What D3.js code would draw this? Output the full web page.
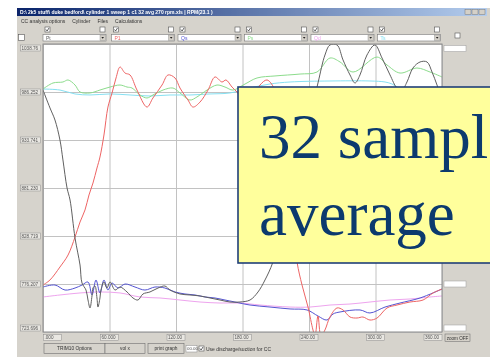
<!DOCTYPE html>
<html>
<head>
<meta charset="utf-8">
<script src="https://cdn.jsdelivr.net/npm/d3@7"></script>
<style>
  html, body { margin: 0; padding: 0; background: #ffffff; overflow: hidden; }
  svg { display: block; }
</style>
</head>
<body>
<svg id="chart" width="490" height="357"></svg>
<script>
// ---- axis ticks (crank angle in degrees, pressure scale) ----
const xTicks = [0, 60, 120, 180, 240, 300, 360];
const xTickLabels = [".000", "60.000", "120.00", "180.00", "240.00", "300.00", "360.00"];
const yTicks = [723.696, 776.207, 828.719, 881.230, 933.741, 986.252, 1038.763];
const yTickLabels = ["723.696", "776.207", "828.719", "881.230", "933.741", "986.252", "1038.76"];

// ---- channel selectors ----
const channelNames = ["Pt", "P1", "Qs", "Ps", "Qd", "Ts"];
const channelColors = ["#606060", "#ee6464", "#5454d2", "#8cdc8c", "#eea4ee", "#86e0f2"];

// ---- traces: [crank angle, value] ----
const traceGray = [
  [0, 988.4], [6.3, 968.8], [10.8, 955.6], [15.3, 933.7], [18, 911.9], [21.7, 881.2],
  [24.4, 868.1], [28.9, 826.5], [33.4, 797.0], [35.2, 777.3], [38.8, 769.6], [40.6, 758.7],
  [42.4, 750.0], [44.2, 763.1], [45.1, 771.8], [46.9, 774.0], [48.7, 760.9], [49.6, 751.0],
  [51.4, 760.9], [52.3, 769.6], [55.0, 778.4], [57.7, 771.8], [60.5, 778.4], [65, 769.6],
  [69.5, 772.9], [75.8, 767.5], [81.2, 760.9], [85.7, 758.7], [90.2, 765.3], [96.5, 767.5],
  [103.8, 771.8], [110, 774.0], [114.6, 769.6], [123.6, 765.3], [132.6, 764.2], [141.7, 763.1],
  [150.7, 760.9], [159.7, 758.7], [168.7, 756.5], [177.7, 756.5], [186.8, 758.7], [194, 767.5],
  [200.3, 780.6], [207.5, 800.3], [222.9, 868.1], [236.4, 933.7], [248.1, 996.1], [254.4, 1026.7],
  [258.9, 1037.7], [265.3, 1037.7], [270.7, 1021.3], [277, 1004.9], [281.5, 996.1], [286, 1004.9],
  [292.3, 1026.7], [299.5, 1037.7], [305.9, 1023.4], [313.1, 1004.9], [319.4, 990.6], [323.9, 988.4],
  [328.4, 997.2], [333.8, 1012.5], [340.2, 1019.1], [346.5, 1019.1], [351, 1008.1], [355.5, 993.9],
  [360, 977.5]
];
const traceRed = [
  [0, 775.1], [6.3, 780.6], [15.3, 794.8], [22.6, 807.9], [28.9, 827.6], [33.4, 844.0],
  [37.9, 857.2], [41.5, 873.6], [45.1, 886.7], [48.7, 903.1], [51.4, 915.1], [55, 939.2],
  [58.6, 969.8], [62.3, 985.2], [65.9, 1001.6], [69.5, 1013.6], [74, 1007.0], [78.5, 1004.9],
  [84.8, 988.4], [93.8, 969.8], [99.2, 979.7], [107.4, 993.9], [112.8, 1004.9], [119.1, 1001.6],
  [123.6, 990.6], [130.8, 977.5], [135.3, 969.8], [141.7, 975.3], [148.9, 988.4], [155.2, 1002.7],
  [161.5, 997.2], [165.1, 999.4], [170.5, 991.7], [175, 986.3], [182.3, 975.3], [188.6, 979.7],
  [195.8, 993.9], [202.1, 999.4], [208.4, 990.6], [213.8, 966.6], [220.2, 911.9], [224.7, 851.7],
  [229.2, 800.3], [233.7, 775.1], [239.1, 751.0], [243.6, 725.9], [245.4, 719.3], [248.1, 741.2],
  [250.8, 719.3], [254.4, 725.9], [258.9, 740.1], [265.3, 750.0], [270.7, 747.8], [277, 740.1],
  [283.3, 739.0], [288.7, 740.1], [295, 736.8], [301.4, 739.0], [310.4, 750.0], [319.4, 753.2],
  [331.1, 756.5], [342.9, 758.7], [351.9, 766.4], [360, 770.7]
];
const traceBlue = [
  [0, 772.9], [10.8, 775.1], [19.9, 769.6], [28.9, 771.8], [35.2, 775.1], [40.6, 778.4],
  [44.2, 764.2], [47.8, 780.6], [51.4, 766.4], [55, 780.6], [58.6, 769.6], [62.3, 777.3],
  [67.7, 771.8], [74, 776.2], [83, 772.9], [92, 769.6], [101, 772.9], [110, 771.8],
  [119.1, 767.5], [128.1, 765.3], [137.1, 764.2], [146.2, 762.0], [155.2, 760.9], [164.2, 758.7],
  [173.2, 756.5], [186.8, 753.2], [204.8, 751.0], [222.9, 748.9], [238.2, 747.8], [248.1, 741.2],
  [256.2, 736.8], [261.7, 743.4], [268, 745.6], [286, 747.8], [295, 744.5], [308.6, 751.0],
  [322.1, 755.4], [340.2, 760.9], [360, 770.7]
];
const traceGreen = [
  [0, 989.5], [9, 996.1], [18, 997.2], [22.6, 999.4], [28.9, 993.9], [33.4, 986.3],
  [42.4, 985.2], [51.4, 988.4], [60.5, 991.7], [69.5, 993.9], [75.8, 991.7], [80.3, 990.6],
  [87.5, 983.0], [93.8, 979.7], [99.2, 983.0], [108.3, 988.4], [117.3, 990.6], [123.6, 985.2],
  [132.6, 977.5], [138.9, 980.8], [148, 988.4], [157, 993.9], [164.2, 991.7], [171.4, 988.4],
  [182.3, 995.0], [193.1, 1001.6], [209.3, 1003.8], [231.9, 1005.9], [247.2, 1008.1], [258.9, 1023.4],
  [268, 1019.1], [279.7, 1008.1], [301.4, 1024.5], [310.4, 1015.8], [322.1, 1007.0], [337.4, 1012.5],
  [349.2, 1008.1], [360, 1002.7]
];
const traceMagenta = [
  [0, 762.0], [15.3, 764.2], [33.4, 766.4], [51.4, 767.5], [69.5, 766.4], [87.5, 762.0],
  [105.6, 760.9], [123.6, 758.7], [141.7, 756.5], [159.7, 755.4], [177.7, 755.4], [195.8, 753.2],
  [222.9, 751.0], [240.9, 751.0], [258.9, 753.2], [277, 754.3], [295, 756.5], [313.1, 758.7],
  [331.1, 759.8], [349.2, 762.0], [360, 763.1]
];
const traceCyan = [
  [0, 989.5], [15.3, 988.4], [28.9, 984.1], [42.4, 983.0], [60.5, 984.1], [78.5, 983.0],
  [96.5, 981.9], [114.6, 983.0], [132.6, 983.0], [150.7, 984.1], [168.7, 985.2], [186.8, 990.6],
  [204.8, 995.0], [222.9, 997.2], [258.9, 998.3], [295, 998.3], [308.6, 997.2], [314.9, 995.0],
  [319.4, 991.7], [331.1, 983.0], [344.7, 980.8], [360, 983.0]
];
// draw order: back to front
const traces = [traceCyan, traceGreen, traceMagenta, traceBlue, traceRed, traceGray];
const traceColors = [channelColors[5], channelColors[3], channelColors[4], channelColors[2], channelColors[1], channelColors[0]];

// ---- window text ----
const titleText = "D:\\ 2k5 stuff\\ duke bedford\\ cylinder 1 sweep 1 c1 32 avg 270 rpm.xls | RPM(23.1 )";
const menuItems = ["CC analysis options", "Cylinder", "Files", "Calculations"];
const buttonLabels = ["TRIM10 Options", "vol x", "print graph"];
const calloutLines = ["32 sample", "average"];

const svg = d3.select("#chart");
const defs = svg.append("defs");
defs.append("filter").attr("id", "soft").attr("x", "-2%").attr("y", "-2%").attr("width", "104%").attr("height", "104%")
  .append("feGaussianBlur").attr("stdDeviation", 0.35);
const grad = defs.append("linearGradient").attr("id", "titleGrad");
grad.append("stop").attr("offset", "0%").attr("stop-color", "#0a246a");
grad.append("stop").attr("offset", "100%").attr("stop-color", "#b4cdee");
defs.append("clipPath").attr("id", "plotClip")
  .append("rect").attr("x", 43).attr("y", 44).attr("width", 399).attr("height", 288);

const FONT = "'Liberation Sans', Arial, sans-serif";
const win = svg.append("g").attr("filter", "url(#soft)");

// window body and title bar
win.append("rect").attr("x", 17).attr("y", 8).attr("width", 473).attr("height", 349).attr("fill", "#d6d3cc");
win.append("rect").attr("x", 17).attr("y", 8).attr("width", 470).attr("height", 8).attr("fill", "url(#titleGrad)");
win.append("text").attr("x", 20).attr("y", 14).attr("font-family", FONT).attr("font-size", 5)
  .attr("font-weight", "bold").attr("fill", "#ffffff").text(titleText);
[465, 472, 479].forEach(bx => {
  win.append("rect").attr("x", bx).attr("y", 9.5).attr("width", 6).attr("height", 5)
    .attr("fill", "#d4d0c8").attr("stroke", "#666").attr("stroke-width", 0.4);
});

// menu bar
let mx = 21;
menuItems.forEach(m => {
  const t = win.append("text").attr("x", mx).attr("y", 22.5).attr("font-family", FONT)
    .attr("font-size", 5).attr("fill", "#333").text(m);
  mx += t.node().getComputedTextLength() + 7;
});

// scales
const x = d3.scaleLinear().domain([0, 360]).range([43, 442]);
const y = d3.scaleLinear().domain([yTicks[0], yTicks[yTicks.length - 1]]).range([332, 44]);

// small check boxes
function checkBox(g, bx, by, size, checked) {
  g.append("rect").attr("x", bx).attr("y", by).attr("width", size).attr("height", size)
    .attr("fill", "#ffffff").attr("stroke", "#555").attr("stroke-width", 0.6);
  if (checked) {
    g.append("path").attr("d", `M${bx + 1},${by + size * 0.5} L${bx + size * 0.42},${by + size - 1} L${bx + size - 1},${by + 1}`)
      .attr("fill", "none").attr("stroke", "#222").attr("stroke-width", 0.7);
  }
}

// channel selector row
channelNames.forEach((name, i) => {
  const left = x(xTicks[i]) + (i === 0 ? 0 : 2);
  const w = 63;
  checkBox(win, left + 2, 27, 5, true);
  checkBox(win, left + w - 6, 27, 5, false);
  win.append("rect").attr("x", left).attr("y", 34.5).attr("width", w).attr("height", 6.5)
    .attr("fill", "#ffffff").attr("stroke", "#7a7a7a").attr("stroke-width", 0.6);
  win.append("rect").attr("x", left + w - 6).attr("y", 35).attr("width", 5.5).attr("height", 5.5)
    .attr("fill", "#d4d0c8").attr("stroke", "#888").attr("stroke-width", 0.4);
  win.append("path").attr("d", `M${left + w - 4.6},${37} l2.6,0 l-1.3,1.8 z`).attr("fill", "#222");
  win.append("text").attr("x", left + 3).attr("y", 39.6).attr("font-family", FONT).attr("font-size", 5)
    .attr("fill", channelColors[i]).text(name);
});
checkBox(win, 18.5, 34.5, 6, false);
checkBox(win, 455, 33, 5, false);

// plot background and frame
win.append("rect").attr("x", 43).attr("y", 44).attr("width", 399).attr("height", 288).attr("fill", "#ffffff");

// grid via axes
win.append("g").attr("transform", "translate(0,332)")
  .call(d3.axisBottom(x).tickValues(xTicks).tickSize(-288).tickFormat(""))
  .call(g => g.select(".domain").remove())
  .call(g => g.selectAll("line").attr("stroke", "#c2c2c2").attr("stroke-width", 1));
win.append("g").attr("transform", "translate(43,0)")
  .call(d3.axisLeft(y).tickValues(yTicks).tickSize(-399).tickFormat(""))
  .call(g => g.select(".domain").remove())
  .call(g => g.selectAll("line").attr("stroke", "#c2c2c2").attr("stroke-width", 1));

// traces
const line = d3.line().x(d => x(d[0])).y(d => y(d[1])).curve(d3.curveCatmullRom.alpha(0.5));
const traceLayer = win.append("g").attr("clip-path", "url(#plotClip)");
traces.forEach((tr, i) => {
  traceLayer.append("path").datum(tr).attr("d", line)
    .attr("fill", "none").attr("stroke", traceColors[i]).attr("stroke-width", 1);
});

win.append("rect").attr("x", 43).attr("y", 44).attr("width", 399).attr("height", 288)
  .attr("fill", "none").attr("stroke", "#8a8a8a").attr("stroke-width", 1);

// y tick label boxes
yTicks.forEach((v, i) => {
  let cy = y(v);
  let top = cy - 3;
  if (i === yTicks.length - 1) top = 45;
  if (i === 0) top = 325;
  win.append("rect").attr("x", 20.5).attr("y", top).attr("width", 20).attr("height", 6)
    .attr("fill", "#e9e7e2").attr("stroke", "#8c8c8c").attr("stroke-width", 0.5);
  win.append("text").attr("x", 21.5).attr("y", top + 4.8).attr("font-family", FONT).attr("font-size", 4.6)
    .attr("fill", "#555").text(yTickLabels[i]);
});

// x tick label boxes
xTicks.forEach((v, i) => {
  const w = 18;
  let left = x(v) - w / 2;
  if (i === 0) left = 43.5;
  if (i === xTicks.length - 1) left = 442 - w;
  win.append("rect").attr("x", left).attr("y", 334.5).attr("width", w).attr("height", 6)
    .attr("fill", "#e9e7e2").attr("stroke", "#8c8c8c").attr("stroke-width", 0.5);
  win.append("text").attr("x", left + 1).attr("y", 339.3).attr("font-family", FONT).attr("font-size", 4.6)
    .attr("fill", "#555").text(xTickLabels[i]);
});

// right-hand side fields
[[444, 45.5], [444, 281], [444, 325]].forEach(([bx, by]) => {
  win.append("rect").attr("x", bx).attr("y", by).attr("width", 22).attr("height", 6)
    .attr("fill", "#ffffff").attr("stroke", "#9a9a9a").attr("stroke-width", 0.5);
});
win.append("rect").attr("x", 445).attr("y", 334).attr("width", 25).attr("height", 7.5)
  .attr("fill", "#d4d0c8").attr("stroke", "#666").attr("stroke-width", 0.5);
win.append("text").attr("x", 457.5).attr("y", 339.6).attr("text-anchor", "middle").attr("font-family", FONT)
  .attr("font-size", 4.6).attr("fill", "#333").text("zoom OFF");

// bottom buttons
const buttonSpans = [[44, 61], [105, 40], [148, 36]];
buttonLabels.forEach((b, i) => {
  const [bx, bw] = buttonSpans[i];
  win.append("rect").attr("x", bx).attr("y", 343.5).attr("width", bw).attr("height", 10)
    .attr("fill", "#d6d3cc").attr("stroke", "#6e6e6e").attr("stroke-width", 0.6);
  win.append("text").attr("x", bx + bw / 2).attr("y", 350.3).attr("text-anchor", "middle")
    .attr("font-family", FONT).attr("font-size", 4.8).attr("fill", "#333").text(b);
});
win.append("rect").attr("x", 186).attr("y", 345.5).attr("width", 11).attr("height", 6.5)
  .attr("fill", "#ffffff").attr("stroke", "#8a8a8a").attr("stroke-width", 0.5);
win.append("text").attr("x", 187).attr("y", 350.3).attr("font-family", FONT).attr("font-size", 4.4)
  .attr("fill", "#555").text("00.00");
checkBox(win, 199, 346, 5, true);
win.append("text").attr("x", 206).attr("y", 350.5).attr("font-family", FONT).attr("font-size", 5)
  .attr("fill", "#333").text("Use discharge/suction for CC");

// callout
const callout = svg.append("g");
callout.append("rect").attr("x", 238).attr("y", 87).attr("width", 270).attr("height", 176)
  .attr("fill", "#ffff9c").attr("stroke", "#203f78").attr("stroke-width", 1.6);
calloutLines.forEach((t, i) => {
  callout.append("text").attr("x", 259).attr("y", 158 + i * 77)
    .attr("font-family", "'Liberation Serif', 'Times New Roman', serif").attr("font-size", 63)
    .attr("fill", "#0c3a6e").text(t);
});
</script>
</body>
</html>
